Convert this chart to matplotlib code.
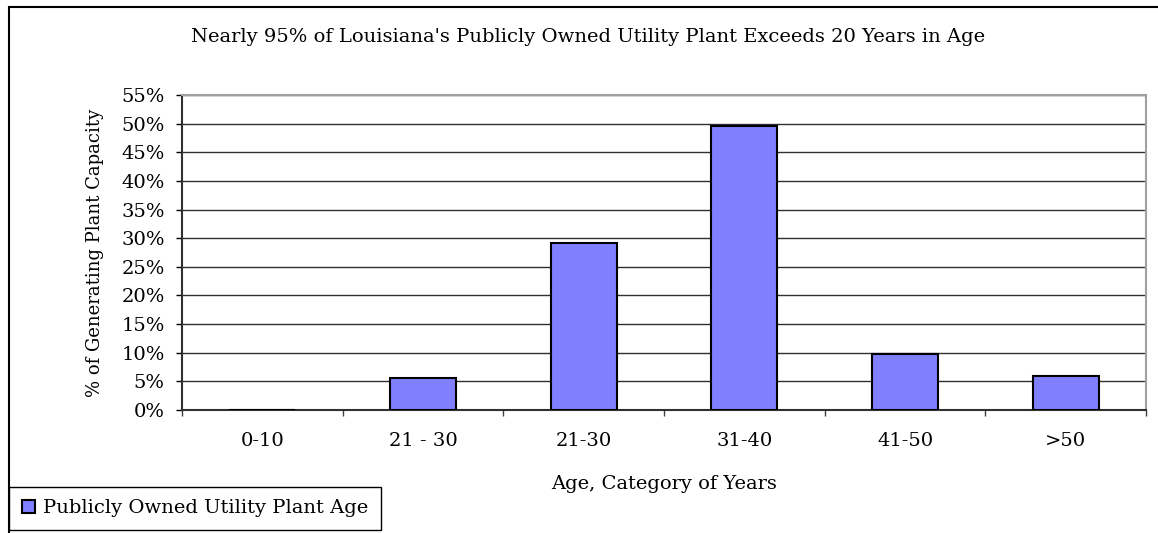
import matplotlib
matplotlib.use("Agg")
from matplotlib import pyplot as plt
from matplotlib.patches import Rectangle
from matplotlib.ticker import FuncFormatter, MultipleLocator

categories = ["0-10", "21 - 30", "21-30", "31-40", "41-50", ">50"]
shares = [0.0, 5.6, 29.2, 49.6, 9.8, 6.0]
series_name = "Publicly Owned Utility Plant Age"

W, H = 1158, 533
plt.rcParams['font.family'] = ['DejaVu Serif']

fig = plt.figure(figsize=(W / 100, H / 100), dpi=100)

# plot area in pixels
left, right, top, bottom = 182, 1146, 95, 410
ax = fig.add_axes([left / W, 1 - bottom / H, (right - left) / W, (bottom - top) / H])

x = list(range(len(categories)))
bars = ax.bar(x, shares, width=0.41, color="#8080ff", edgecolor="black",
              linewidth=1.5, label=series_name, zorder=3)

ax.set_xlim(-0.5, len(categories) - 0.5)
ax.set_ylim(0, 55)
ax.yaxis.set_major_locator(MultipleLocator(5))
ax.yaxis.set_major_formatter(FuncFormatter(lambda v, p: "%d%%" % round(v)))
ax.set_xticks(x)
ax.set_xticklabels(categories)
ax.set_xticks([i + 0.5 for i in range(-1, len(categories))], minor=True)
ax.tick_params(axis="x", which="major", length=0, pad=16, labelsize=14)
ax.tick_params(axis="x", which="minor", length=4.5, width=1, direction="out", color="#404040")
ax.tick_params(axis="y", length=4.5, width=1, direction="out", labelsize=14, pad=8)

ax.grid(axis="y", color="#303030", linewidth=1, zorder=0)
for s in ("top", "right"):
    ax.spines[s].set_color("#a0a0a0")
    ax.spines[s].set_linewidth(1.5)
for s in ("left", "bottom"):
    ax.spines[s].set_color("#303030")
    ax.spines[s].set_linewidth(1.5)

ax.set_ylabel("% of Generating Plant Capacity", fontsize=13, labelpad=12)
ax.set_xlabel("Age, Category of Years", fontsize=14, labelpad=18)

fig.text(588 / W, 1 - 37 / H,
         "Nearly 95% of Louisiana's Publicly Owned Utility Plant Exceeds 20 Years in Age",
         ha="center", va="center", fontsize=14)

# outer chart border
fig.patches.append(Rectangle((9 / W, -0.1), 1.2, 1 - 7 / H + 0.1, transform=fig.transFigure,
                             fill=False, edgecolor="black", linewidth=1.5))

leg = fig.legend(handles=[bars], labels=[series_name], loc="lower left",
                 bbox_to_anchor=(9 / W, 3 / H), fancybox=False, framealpha=1,
                 edgecolor="black", fontsize=14, handlelength=0.7, handleheight=0.7,
                 handletextpad=0.4, borderpad=0.65, borderaxespad=0)
leg.get_frame().set_linewidth(1)

fig.savefig("out.png", dpi=100)
